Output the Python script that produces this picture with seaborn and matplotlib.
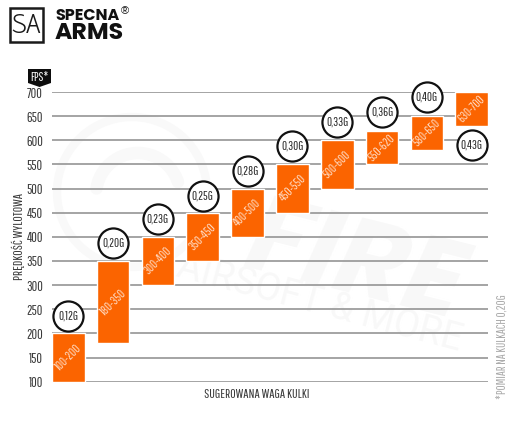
import numpy as np
import pandas as pd
import matplotlib
matplotlib.use("Agg")
import matplotlib.pyplot as plt
from matplotlib.patches import Polygon, Rectangle
from matplotlib.lines import Line2D
import seaborn as sns

# Suggested FPS range for each BB weight
range_labels = ["100-200", "180-350", "300-400", "350-450", "400-500",
                "450-550", "500-600", "550-620", "580-650", "630-700"]
fps_low = [100, 180, 300, 350, 400, 450, 500, 550, 580, 630]
fps_high = [200, 350, 400, 450, 500, 550, 600, 620, 650, 700]
bb_weights = ["0,12G", "0,20G", "0,23G", "0,25G", "0,28G",
              "0,30G", "0,33G", "0,36G", "0,40G", "0,43G"]
badge_fps = [236, 387, 437, 485, 536, 588, 638, 659, 690, 590]
y_ticks = [100, 150, 200, 250, 300, 350, 400, 450, 500, 550, 600, 650, 700]

W, H = 512, 430
ORANGE = "#fb6400"
NARROW = ["Saira Extra Condensed", "Pathway Gothic One", "Roboto", "DejaVu Sans"]
WIDE = ["Poppins", "Liberation Sans", "DejaVu Sans"]

sns.set_theme(style="white")
plt.rcParams["font.family"] = NARROW

df = pd.DataFrame({"range": range_labels, "low": fps_low, "high": fps_high,
                   "weight": bb_weights, "badge": badge_fps})
df["span"] = df["high"] - df["low"]

fig = plt.figure(figsize=(W / 100, H / 100), dpi=100, facecolor="white")
ax = fig.add_axes([52 / W, 1 - 381.7 / H, (488 - 52) / W, (381.7 - 92) / H])
ax.set_facecolor("none")
ax.set_zorder(2)


def fx(px):
    return px / W


def fy(py):
    return 1 - py / H


# Faint watermark behind the chart
fig.text(fx(355), fy(268), "FIRE", color="#f8f8f8", fontsize=78, fontweight="bold",
         family=WIDE, fontstyle="italic", rotation=-14, ha="center", va="center", zorder=0)
fig.text(fx(320), fy(303), "AIRSOFT & MORE", color="#f8f8f8", fontsize=27,
         family=["Roboto", "DejaVu Sans"], rotation=-14.8, ha="center", va="center", zorder=0)
theta = np.linspace(0, 2 * np.pi, 200)
fig.add_artist(Line2D(fx(132) + 75 / W * np.cos(theta), fy(192) + 75 / H * np.sin(theta),
                      color="#f9f9f9", lw=6, zorder=0))
arc = np.linspace(0.1 * np.pi, 0.95 * np.pi, 80)
fig.add_artist(Line2D(fx(138) + 42 / W * np.cos(arc), fy(195) + 42 / H * np.sin(arc),
                      color="#f9f9f9", lw=9, zorder=0))

ax.grid(False)
ax.hlines(y_ticks, -0.3625, 9.3625, color="#8c8c8c", lw=1.1, zorder=1)

sns.barplot(data=df, x="range", y="span", bottom=df["low"], color=ORANGE,
            saturation=1, width=0.725, ax=ax, zorder=2)

sns.scatterplot(data=df, x="range", y="badge", s=470, facecolor="white",
                edgecolor="#111111", linewidth=1.6, ax=ax, zorder=4, legend=False, clip_on=False)

positions = np.arange(len(range_labels))
for pos, row in zip(positions, df.itertuples()):
    ax.text(pos, (row.low + row.high) / 2, row.range, color="#ffdcc5", fontsize=9,
            rotation=45, ha="center", va="center", zorder=5)
    ax.text(pos, row.badge, row.weight, color="#2a2a2a", fontsize=9,
            ha="center", va="center", zorder=5)

ax.set_xlim(-0.3625, 9.3625)
ax.set_ylim(100, 700)
ax.set_xticks([])
ax.set_yticks(y_ticks)
ax.tick_params(axis="y", length=0, pad=6.5, labelsize=10, labelcolor="#3a3a3a")
ax.set_xlabel("")
ax.set_ylabel("")
sns.despine(ax=ax, left=True, bottom=True, top=True, right=True)

fig.text(fx(18), fy(236), "PRĘDKOŚĆ WYLOTOWA", rotation=90, fontsize=9.5, color="#3a3a3a",
         ha="center", va="center")
fig.text(fx(257), fy(395), "SUGEROWANA WAGA KULKI", fontsize=9.5, color="#3a3a3a",
         ha="center", va="center")
fig.text(fx(502), fy(347), "*POMIAR NA KULKACH 0,20G", rotation=90, fontsize=9, color="#aaaaaa",
         ha="center", va="center")

# FPS tag above the axis
tag = [(28, 69), (51, 69), (51, 83), (39.5, 87), (28, 83)]
fig.add_artist(Polygon([(fx(x), fy(y)) for x, y in tag], closed=True, facecolor="#0d0d0d",
                       edgecolor="none", transform=fig.transFigure))
fig.text(fx(39.5), fy(77.5), "FPS*", color="white", fontsize=9, ha="center", va="center")

# Brand mark
fig.add_artist(Rectangle((fx(9.5), fy(42)), 33 / W, 34 / H, facecolor="none", edgecolor="#1a1a1a",
                         lw=1.8, transform=fig.transFigure))
fig.text(fx(26), fy(26), "SA", color="#1a1a1a", fontsize=20, family=["Advent Pro", "Saira Extra Condensed"],
         ha="center", va="center")
fig.text(fx(55), fy(16), "SPECNA", color="#111111", fontsize=11.5, fontweight="bold",
         family=WIDE, ha="left", va="center")
fig.text(fx(55), fy(33.5), "ARMS", color="#111111", fontsize=17, fontweight="bold",
         family=WIDE, ha="left", va="center")
fig.text(fx(125), fy(11), "®", color="#111111", fontsize=8,
         family=["Liberation Sans", "DejaVu Sans"], ha="center", va="center")

fig.savefig("out.png", dpi=100)
